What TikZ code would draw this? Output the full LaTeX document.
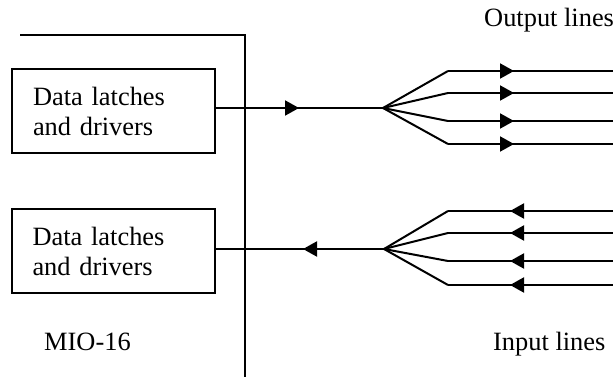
\documentclass[tikz,border=0pt]{standalone}
\usepackage{fontspec}
\setmainfont{Liberation Serif}
\usetikzlibrary{arrows.meta}
\usetikzlibrary{decorations.markings}
\tikzstyle{latchbox}=[draw,line width=2pt,minimum width=203pt,minimum height=84pt,text width=161pt,align=left,inner sep=0pt,font=\fontsize{26.4}{30}\selectfont]
\tikzstyle{wire}=[draw,line width=2pt]
\tikzstyle{txt}=[anchor=base west,inner sep=0pt,font=\fontsize{26.4}{30}\selectfont]
\tikzset{midarrow/.style={postaction={decorate},decoration={markings,mark=at position #1 with {\arrow{Triangle[length=14pt,width=15pt]}}}}}

\begin{document}
\begin{tikzpicture}[x=1pt,y=-1pt]
\useasboundingbox (0,0) rectangle (613,377);

  % board side
  \coordinate (busleft) at (20,35);
  \coordinate (busbottom) at (245,377);
  \path[wire] (busleft) -| (busbottom);

  \node[latchbox] (outlatch) at (113.5,111) {Data latches\\and drivers};
  \node[latchbox] (inlatch) at (113,251) {Data latches\\and drivers};
  \node[txt] (board) at (44,350) {MIO-16};

  % output side
  \coordinate (ofan) at (383,108);
  \path[wire,midarrow=83pt] (outlatch.east |- ofan) -- (ofan);
  \foreach \y/\s/\e in {71/os1/oe1, 93/os2/oe2, 121/os3/oe3, 144/os4/oe4} {
      \coordinate (\s) at (448,\y);
      \coordinate (\e) at (613,\y);
      \path[wire] (ofan) -- (\s);
      \path[wire,midarrow=66pt] (\s) -- (\e);
  }
  \node[txt] (outtitle) at (484,27) {Output lines};

  % input side
  \coordinate (ifan) at (384,249);
  \path[wire,midarrow=81pt] (ifan) -- (inlatch.east |- ifan);
  \foreach \y/\s/\e in {211/is1/ie1, 233/is2/ie2, 261/is3/ie3, 285/is4/ie4} {
      \coordinate (\s) at (448,\y);
      \coordinate (\e) at (613,\y);
      \path[wire,midarrow=103pt] (\e) -- (\s);
      \path[wire] (\s) -- (ifan);
  }
  \node[txt] (intitle) at (493,350) {Input lines};

\end{tikzpicture}
\end{document}
